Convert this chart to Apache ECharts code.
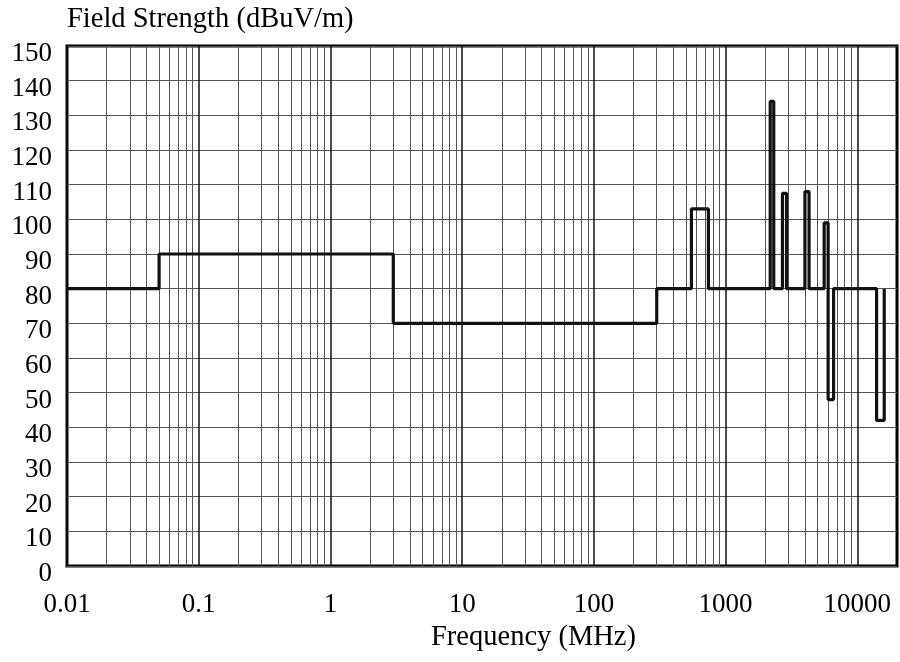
<!DOCTYPE html>
<html>
<head>
<meta charset="utf-8">
<script src="https://cdn.jsdelivr.net/npm/echarts@6/dist/echarts.min.js"></script>
<style>html,body{margin:0;padding:0;background:#fff;}#c{width:900px;height:662px;}</style>
</head>
<body>
<div id="c"></div>
<script>
// Segment start frequencies (MHz) and the field-strength level (dBuV/m) held from each one
const freqs  = [0.01, 0.05, 3, 300, 550, 740, 2180, 2320, 2700, 2900, 4000, 4300, 5600, 6000, 6600, 14000, 16000];
const levels = [80,   90,   70, 80, 103, 80,  134,  80,   107.5, 80,  108,  80,   99,   48,   80,   42,    80];
// Axis ranges and tick labels
const xMin = 0.01, xMax = 20000;
const yMin = 0, yMax = 150, yStep = 10;
const decades = [0.01, 0.1, 1, 10, 100, 1000, 10000];
const minorMultipliers = [2, 3, 4, 5, 6, 7, 8, 9];
const xTitle = 'Frequency (MHz)';
const yTitle = 'Field Strength (dBuV/m)';

const FONT = '"Liberation Serif", "Times New Roman", serif';
const points = freqs.map((f, i) => [f, levels[i]]);

const gridLines = [];
decades.forEach(d => {
  gridLines.push({xAxis: d, lineStyle: {color: '#111', width: 1.5, type: 'solid'}});
  minorMultipliers.forEach(m => {
    const v = +(d * m).toPrecision(6);
    if (v < xMax) gridLines.push({xAxis: v, lineStyle: {color: '#555', width: 1, type: 'solid'}});
  });
});

const chart = echarts.init(document.getElementById('c'), null, {renderer: 'canvas'});
chart.setOption({
  animation: false,
  backgroundColor: '#fff',
  grid: {left: 67, right: 2, top: 46, bottom: 96, show: true, borderColor: '#000', borderWidth: 3, backgroundColor: 'transparent'},
  xAxis: {
    type: 'log', logBase: 10, min: xMin, max: xMax,
    name: '{t|' + xTitle + '}', nameLocation: 'middle', nameGap: 55,
    nameTextStyle: {
      rich: {t: {fontFamily: FONT, fontSize: 28.5, color: '#000', padding: [0, 0, 0, 103]}}
    },
    axisLine: {show: false}, axisTick: {show: false}, splitLine: {show: false},
    axisLabel: {
      fontFamily: FONT, fontSize: 27, color: '#000', margin: 25,
      showMaxLabel: true, showMinLabel: true,
      formatter: function (v) {
        const e = Math.log10(v);
        if (Math.abs(e - Math.round(e)) > 1e-6) return '';
        return String(+v.toPrecision(6));
      }
    }
  },
  yAxis: {
    type: 'value', min: yMin, max: yMax, interval: yStep,
    name: yTitle, nameLocation: 'end', nameGap: 12,
    nameTextStyle: {fontFamily: FONT, fontSize: 28.5, color: '#000', align: 'left', verticalAlign: 'bottom'},
    axisLine: {show: false}, axisTick: {show: false},
    splitLine: {show: true, lineStyle: {color: '#555', width: 1}},
    axisLabel: {
      margin: 15,
      formatter: function (v) { return '{n|' + v + '}'; },
      rich: {n: {fontFamily: FONT, fontSize: 27, color: '#000', padding: [16, 0, 0, 0]}}
    }
  },
  series: [
    {
      type: 'line', data: [], silent: true, z: 1,
      markLine: {silent: true, symbol: ['none', 'none'], label: {show: false}, animation: false, data: gridLines}
    },
    {
      type: 'line', data: points, step: 'end', showSymbol: false, symbol: 'none', z: 5,
      lineStyle: {color: '#111', width: 3.2}
    }
  ]
});
</script>
</body>
</html>
